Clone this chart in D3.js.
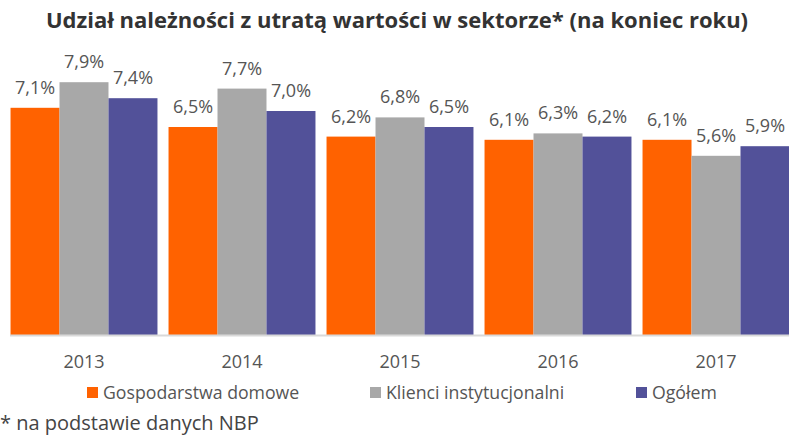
<!DOCTYPE html>
<html>
<head>
<meta charset="utf-8">
<script src="https://cdn.jsdelivr.net/npm/d3@7"></script>
<style>
  body { margin: 0; background: #fff; }
  svg { display: block; font-family: "Open Sans", "Noto Sans", sans-serif; }
</style>
</head>
<body>
<div id="chart"></div>
<script>
// ==============================
// DATA
// ==============================
const years = ["2013", "2014", "2015", "2016", "2017"];
const seriesNames = ["Gospodarstwa domowe", "Klienci instytucjonalni", "Ogółem"];
const households = [7.1, 6.5, 6.2, 6.1, 6.1];
const institutional = [7.9, 7.7, 6.8, 6.3, 5.6];
const overall = [7.4, 7.0, 6.5, 6.2, 5.9];
const colors = ["#FF6200", "#A8A8A8", "#525199"];

const seriesValues = [households, institutional, overall];

// rows for the grouped bars
const rows = years.map((y, i) => ({
  year: y,
  values: seriesNames.map((s, j) => ({ key: s, idx: j, value: seriesValues[j][i] }))
}));

// ==============================
// SVG SETUP
// ==============================
const width = 789;
const height = 436;

const svg = d3.select("#chart")
  .append("svg")
  .attr("width", width)
  .attr("height", height);

const baseline = 335;

const x0 = d3.scaleBand()
  .domain(years)
  .range([5, 795])
  .paddingInner(0.07)
  .paddingOuter(0.035);

const x1 = d3.scaleBand()
  .domain(seriesNames)
  .range([0, x0.bandwidth()]);

const y = d3.scaleLinear()
  .domain([0, 10])
  .range([baseline, baseline - 320]);

// Title
svg.append("text")
  .attr("x", 397)
  .attr("y", 28)
  .attr("text-anchor", "middle")
  .attr("font-size", 22)
  .attr("font-weight", "bold")
  .attr("fill", "#333")
  .text("Udział należności z utratą wartości w sektorze* (na koniec roku)");

// ==============================
// BARS
// ==============================
const groups = svg.append("g")
  .selectAll("g")
  .data(rows)
  .enter()
  .append("g")
  .attr("transform", d => `translate(${x0(d.year)},0)`);

groups.selectAll("rect")
  .data(d => d.values)
  .enter()
  .append("rect")
  .attr("x", d => x1(d.key))
  .attr("y", d => y(d.value))
  .attr("width", x1.bandwidth())
  .attr("height", d => baseline - y(d.value))
  .attr("fill", d => colors[d.idx]);

// value labels
groups.selectAll("text")
  .data(d => d.values)
  .enter()
  .append("text")
  .attr("x", d => x1(d.key) + x1.bandwidth() / 2)
  .attr("y", d => y(d.value) - 14)
  .attr("text-anchor", "middle")
  .attr("font-size", 18)
  .attr("fill", "#555")
  .text(d => d.value.toFixed(1).replace(".", ",") + "%");

// ==============================
// AXIS
// ==============================
const xAxis = svg.append("g")
  .attr("transform", `translate(0,${baseline})`)
  .call(d3.axisBottom(x0).tickSize(0).tickPadding(20));

xAxis.select(".domain")
  .attr("d", `M10,0.5H${width}`)
  .attr("stroke", "#d9d9d9")
  .attr("stroke-width", 2);

xAxis.selectAll("text")
  .attr("font-size", 18)
  .attr("font-family", "\"Open Sans\", \"Noto Sans\", sans-serif")
  .attr("fill", "#555");

// ==============================
// LEGEND
// ==============================
const legendX = [87, 370, 636];
const legend = svg.append("g")
  .selectAll("g")
  .data(seriesNames)
  .enter()
  .append("g")
  .attr("transform", (d, i) => `translate(${legendX[i]},387)`);

legend.append("rect")
  .attr("width", 11)
  .attr("height", 11)
  .attr("fill", (d, i) => colors[i]);

legend.append("text")
  .attr("x", 16)
  .attr("y", 12)
  .attr("font-size", 17.7)
  .attr("fill", "#555")
  .text(d => d);

// Footnote
svg.append("text")
  .attr("x", 0)
  .attr("y", 430)
  .attr("font-size", 20)
  .attr("fill", "#444")
  .text("* na podstawie danych NBP");
</script>
</body>
</html>
